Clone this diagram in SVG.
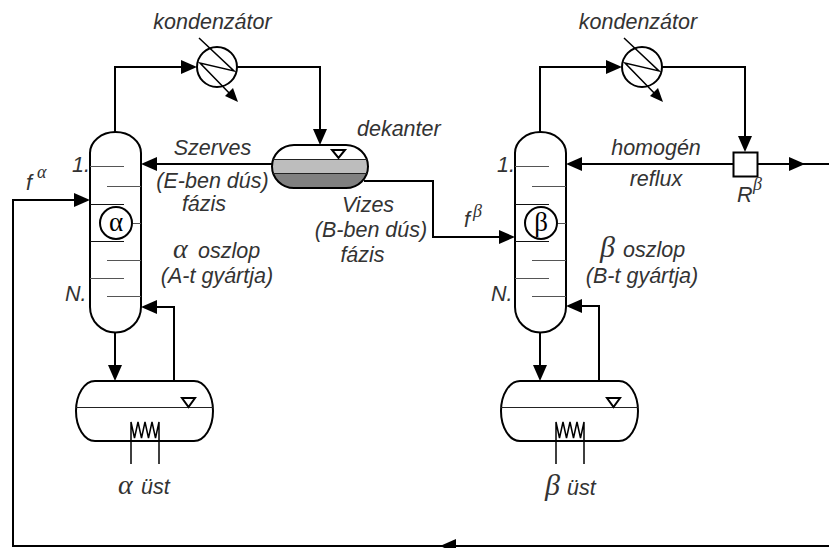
<svg xmlns="http://www.w3.org/2000/svg" width="829" height="548" viewBox="0 0 829 548">
<style>
.l{fill:none;stroke:#000;stroke-width:2}
.n{fill:none;stroke:#000;stroke-width:1.5}
.t{fill:none;stroke:#555;stroke-width:1}
.d{fill:none;stroke:#111;stroke-width:1}
.v{fill:#fff;stroke:#000;stroke-width:2}
.h{fill:#000;stroke:none}
text{font-family:"Liberation Sans",Arial,sans-serif;font-style:italic;font-size:21.500px;fill:#333}
.c{text-anchor:middle}
.g{font-family:"Liberation Serif","DejaVu Serif",serif;font-style:normal;font-size:27px;text-anchor:middle;fill:#000}
.i{font-family:"Liberation Serif","DejaVu Serif",serif;font-size:28px}
.b{font-family:"Liberation Serif","DejaVu Serif",serif;font-size:30px}
.s{font-family:"Liberation Serif","DejaVu Serif",serif;font-size:18px}
</style>
<defs>
<path id="a" class="h" d="M0 0L-16 -7V7Z"/>
<clipPath id="dc"><path d="M294 145H346A22 21.500 0 0 1 346 188H294A22 21.500 0 0 1 294 145Z"/></clipPath>
<g id="col">
<path class="v" d="M0 153A25.500 21 0 0 1 51 153V307A25.500 25.500 0 0 1 0 307Z"/>
<path class="t" d="M0 166.500H34M17 186.500H51M43 223.500H51M17 260.500H51M0 278.500H34M17 296.500H51"/>
<path class="d" d="M0 204.500H34M0 241.500H34"/>
<circle class="v" cx="26" cy="223" r="16"/>
</g>
<g id="cond">
<circle class="v" cx="0" cy="0" r="20"/>
<path class="n" d="M-18 -29L17 4L-17 -4L17 31"/>
<path class="h" d="M21 35L8 29L16 21Z"/>
</g>
<g id="reb">
<path class="v" d="M19 0H118A19 30 0 0 1 118 60H19A19 30 0 0 1 19 0Z"/>
<path d="M0 26.500H137" fill="none" stroke="#222" stroke-width="1"/>
<path class="l" d="M106 17H119L112.500 26Z"/>
<path class="n" d="M55 83V41L58.500 57L62 41L65.500 57L69 41L72.500 57L76 41L79.500 57L83 41V83"/>
</g>
</defs>
<g id="connectors">
<path class="l" d="M115 132V67H190M237 67H320V133"/>
<path class="l" d="M272 164H154"/>
<path class="l" d="M364 181H433V237H502"/>
<path class="l" d="M115 332V367M174 381V307H154"/>
<path class="l" d="M540 132V67H615M662 67H745V139"/>
<path class="l" d="M733 164H579M757 164H829"/>
<path class="l" d="M540 332V367M599 381V306H579"/>
<path class="l" d="M829 546H13V200H77"/>
<use href="#a" x="197" y="67"/>
<use href="#a" transform="translate(320 145) rotate(90)"/>
<use href="#a" transform="translate(141 164) rotate(180)"/>
<use href="#a" x="515" y="237"/>
<use href="#a" transform="translate(115 381) rotate(90)"/>
<use href="#a" transform="translate(141 307) rotate(180)"/>
<use href="#a" x="622" y="67"/>
<use href="#a" transform="translate(745 152) rotate(90)"/>
<use href="#a" transform="translate(566 164) rotate(180)"/>
<use href="#a" x="805" y="164"/>
<use href="#a" transform="translate(540 381) rotate(90)"/>
<use href="#a" transform="translate(566 306) rotate(180)"/>
<use href="#a" x="90" y="200"/>
<use href="#a" transform="translate(440 546) rotate(180)"/>
</g>
<g id="alpha-column"><use href="#col" x="90"/><text class="g" x="116" y="231">α</text></g>
<g id="beta-column"><use href="#col" x="515"/><text class="g" x="541" y="231">β</text></g>
<g id="condenser-alpha"><use href="#cond" x="217" y="67"/></g>
<g id="condenser-beta"><use href="#cond" x="642" y="67"/></g>
<g id="decanter">
<g clip-path="url(#dc)">
<rect x="272" y="160" width="96" height="13.500" fill="#bdbdbd"/>
<rect x="272" y="173.500" width="96" height="15" fill="#808080"/>
</g>
<path class="l" d="M294 145H346A22 21.500 0 0 1 346 188H294A22 21.500 0 0 1 294 145Z"/>
<path d="M272 159.500H368M272 173.500H368" fill="none" stroke="#222" stroke-width="1"/>
<path d="M332 150H345L338.500 158Z" fill="#fff" stroke="#000" stroke-width="2"/>
</g>
<g id="reboiler-alpha"><use href="#reb" x="76" y="381"/></g>
<g id="reboiler-beta"><use href="#reb" x="501" y="381"/></g>
<g id="splitter"><rect class="v" x="733.500" y="152.500" width="24" height="24"/></g>
<g id="labels">
<text class="c" x="212.500" y="29">kondenzátor</text>
<text class="c" x="638" y="29">kondenzátor</text>
<text x="357" y="136">dekanter</text>
<text class="c" x="212.500" y="155">Szerves</text>
<text class="c" x="212.500" y="188">(E-ben dús)</text>
<text class="c" x="204" y="211">fázis</text>
<text class="c" x="368" y="212">Vizes</text>
<text class="c" x="371" y="237">(B-ben dús)</text>
<text class="c" x="362.500" y="262">fázis</text>
<text x="72" y="172">1.</text>
<text x="497" y="172">1.</text>
<text x="65" y="301">N.</text>
<text x="491" y="301">N.</text>
<text x="26" y="190">f</text><text class="s" x="37" y="178">α</text>
<text x="464" y="227">f</text><text class="s" x="473" y="217">β</text>
<text x="737" y="202">R</text><text class="s" x="753" y="190">β</text>
<text class="c" x="656" y="155">homogén</text>
<text class="c" x="656" y="186">reflux</text>
<text class="i" x="173" y="258">α</text><text x="198" y="258">oszlop</text>
<text class="c" x="217" y="283">(A-t gyártja)</text>
<text class="b" x="600" y="257">β</text><text x="623" y="257">oszlop</text>
<text class="c" x="642" y="283">(B-t gyártja)</text>
<text class="i" x="118" y="494">α</text><text x="141" y="494">üst</text>
<text class="b" x="545" y="495">β</text><text x="567" y="495">üst</text>
</g>
</svg>
